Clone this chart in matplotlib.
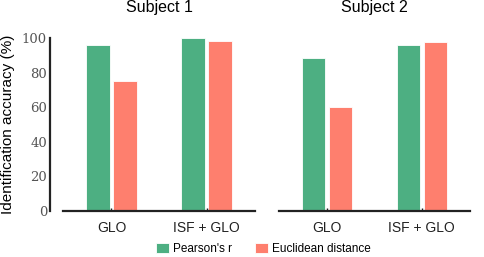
import matplotlib
matplotlib.use("Agg")
import matplotlib.pyplot as plt
import numpy as np

# values
subjects = ["Subject 1", "Subject 2"]
categories = ["GLO", "ISF + GLO"]
pearson = [[96, 100], [88.5, 96]]
euclid = [[75, 98.5], [60, 97.5]]
yticks = [0, 20, 40, 60, 80, 100]

green = "#4daf82"
red = "#fe7f6e"
dark = "#222222"

plt.rcParams["font.family"] = ["Liberation Sans", "DejaVu Sans"]

fig = plt.figure(figsize=(4.85, 2.57), dpi=100)
ax1 = fig.add_axes([63 / 485, 1 - 211 / 257, 192 / 485, 173 / 257])
ax2 = fig.add_axes([279 / 485, 1 - 211 / 257, 191 / 485, 173 / 257])

x = np.arange(len(categories))
w = 0.245
off = 0.142
for ax, subj, p, e in zip([ax1, ax2], subjects, pearson, euclid):
    bp = ax.bar(x - off, p, w, color=green, edgecolor="white", linewidth=0.6, label="Pearson's r")
    be = ax.bar(x + off, e, w, color=red, edgecolor="white", linewidth=0.6, label="Euclidean distance")
    ax.set_xlim(-0.51, 1.51)
    ax.set_ylim(0, 100)
    ax.set_title(subj, fontsize=11.5, pad=19, color="black")
    ax.set_xticks(x)
    ax.set_xticklabels(categories, fontsize=10, color=dark)
    ax.tick_params(axis="x", direction="in", length=2, width=1, color=dark, pad=7)
    for s in ["top", "right"]:
        ax.spines[s].set_visible(False)
    ax.spines["bottom"].set_linewidth(1.6)
    ax.spines["bottom"].set_color(dark)

ax1.spines["left"].set_position(("outward", 9.5))
ax1.spines["left"].set_linewidth(1.6)
ax1.spines["left"].set_color(dark)
ax1.set_yticks(yticks)
ax1.set_yticklabels([str(t) for t in yticks], family="DejaVu Serif", fontsize=9.5, color="#555555")
ax1.tick_params(axis="y", length=0, pad=2)
ax1.set_ylabel("Identification accuracy (%)", fontsize=11, labelpad=5)

ax2.spines["left"].set_visible(False)
ax2.set_yticks([])

handles, labels = ax1.get_legend_handles_labels()
fig.legend(handles, labels, loc="center", bbox_to_anchor=(0.543, 0.031), ncol=2,
           frameon=False, fontsize=8.5, handlelength=1.1, handleheight=1.0,
           handletextpad=0.35, columnspacing=1.9, borderpad=0, borderaxespad=0)

fig.savefig("out.png", dpi=100)
